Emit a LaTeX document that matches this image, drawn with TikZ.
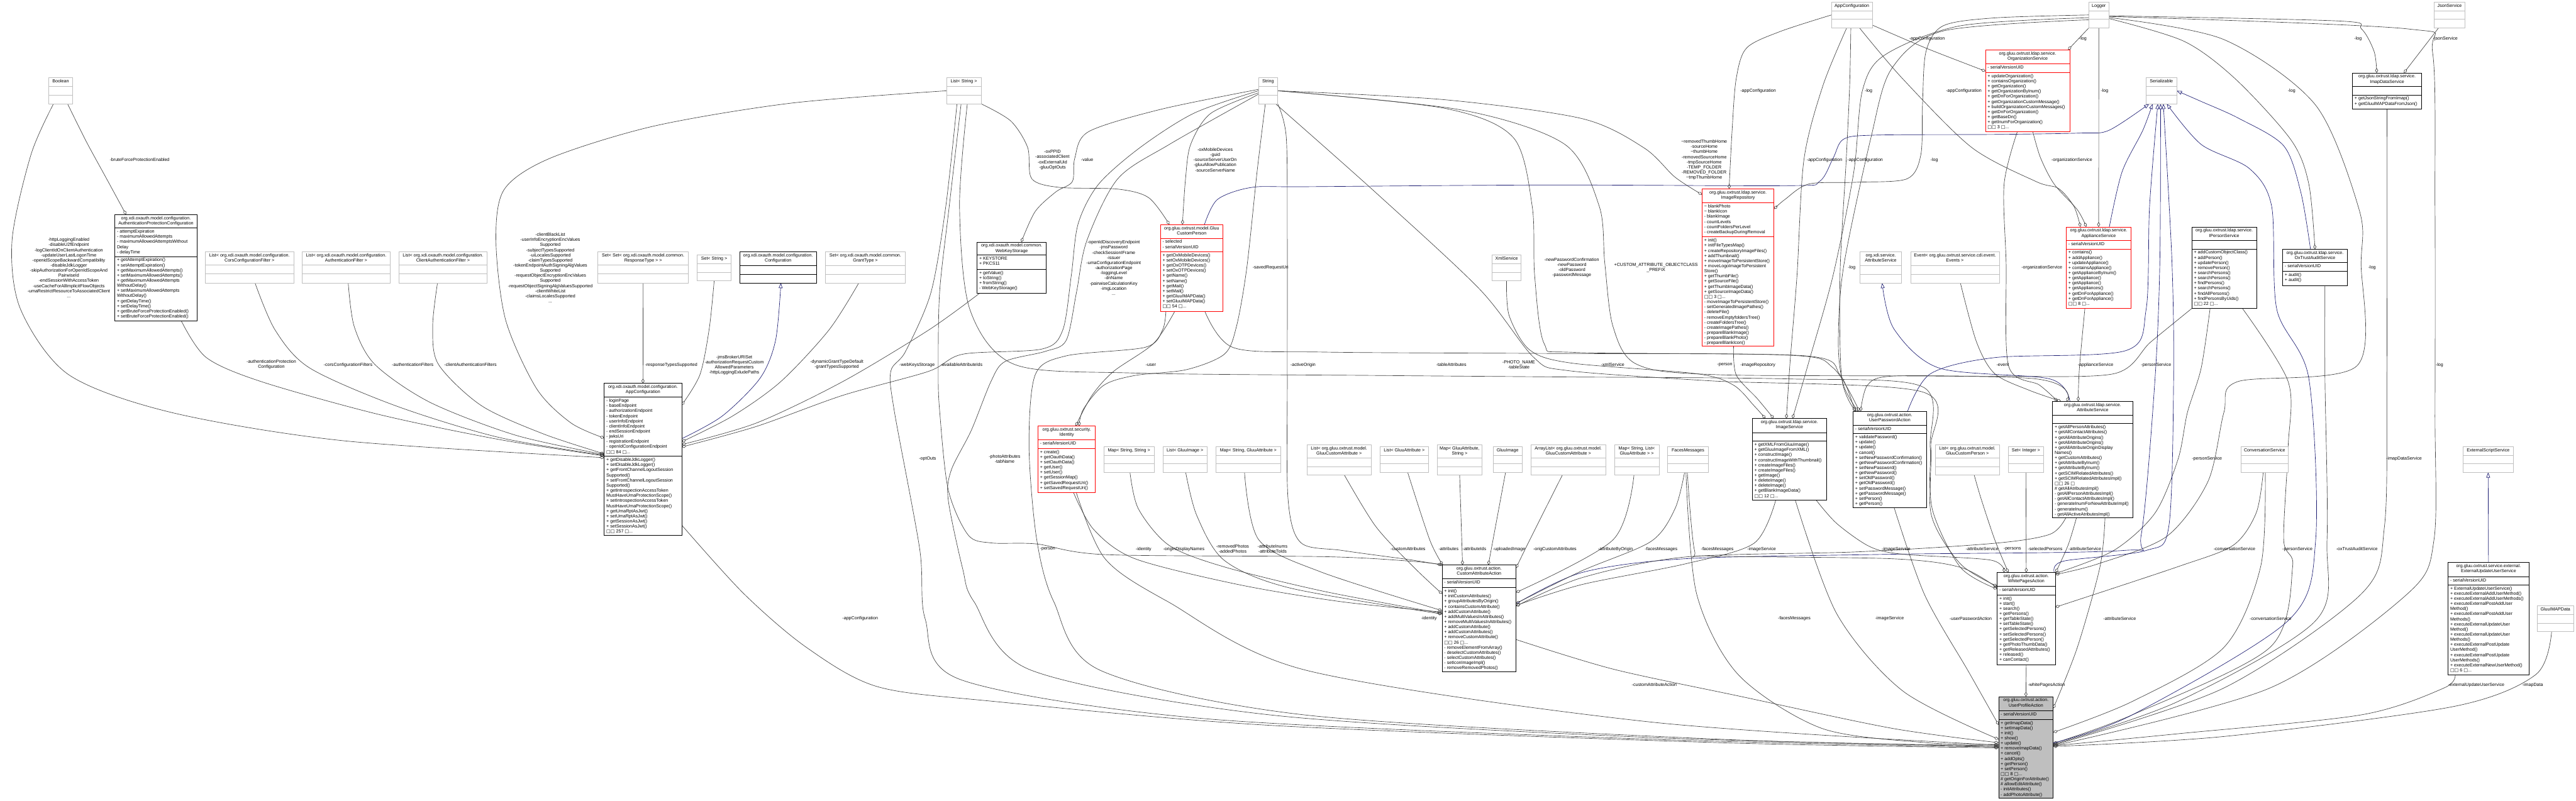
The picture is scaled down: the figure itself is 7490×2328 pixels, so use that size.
\documentclass[tikz,border=0pt]{standalone}
\usepackage{fontspec}
\setmainfont{Liberation Sans}
\newfontfamily\symfont{DejaVu Sans}
\usetikzlibrary{arrows.meta,calc}
\definecolor{edgegray}{HTML}{404040}
\definecolor{boxgray}{HTML}{BFBFBF}
\definecolor{inhblue}{HTML}{191970}
\newcommand\dfont{\fontsize{13}{14.9}\selectfont}
\newcommand\bx{{\symfont □}}
\newcommand\more[1]{\bx\bx{} #1 \bx{}...}
\def\uboxdims#1/#2/#3/#4/#5/#6\relax{\def\ux{#1}\def\uy{#2}\def\uw{#3}\def\uha{#4}\def\uhb{#5}\def\uhc{#6}}
\newcommand\ubox[6]{%
  \uboxdims#3\relax
  \pgfmathsetmacro\uh{\uha+\uhb+\uhc}%
  \pgfmathsetmacro\uya{\uy+\uha}%
  \pgfmathsetmacro\uyb{\uy+\uha+\uhb}%
  \pgfmathsetmacro\uxc{\ux+\uw/2}%
  \pgfmathsetmacro\uxl{\ux+6}%
  \pgfmathsetmacro\uyt{\uy+5}%
  \pgfmathsetmacro\uyat{\uya+5}%
  \pgfmathsetmacro\uybt{\uyb+5}%
  \node[#2, anchor=north west, minimum width=\uw pt, minimum height=\uh pt, inner sep=0pt, outer sep=0pt] (#1) at (\ux,\uy) {};
  \draw[#2, fill=none] (\ux,\uya) -- ++(\uw,0) (\ux,\uyb) -- ++(\uw,0);
  \node[txt, anchor=north, align=center] (#1-t) at (\uxc,\uyt) {#4};
  \node[txt, anchor=north west, align=left] (#1-a) at (\uxl,\uyat) {#5};
  \node[txt, anchor=north west, align=left] (#1-m) at (\uxl,\uybt) {#6};
}
\pgfdeclarelayer{back}
\pgfdeclarelayer{bg}
\pgfsetlayers{back,bg,main}
\begin{document}
\begin{tikzpicture}[x=1pt,y=-1pt,
  txt/.style={font=\dfont, inner sep=0pt, text=black},
  lbl/.style={font=\dfont, inner sep=0pt, text=black, align=center},
  cblack/.style={draw=black, line width=1.3pt, fill=white},
  cgray/.style={draw=boxgray, line width=1.3pt, fill=white},
  cred/.style={draw=red, line width=1.3pt, fill=white},
  ccur/.style={draw=black, line width=1.3pt, fill=boxgray},
  agg/.style={draw=edgegray, line width=1.2pt, -{Diamond[open, length=14pt, width=9pt]}},
  inh/.style={draw=inhblue, line width=1.2pt, -{Triangle[open, length=15pt, width=11pt]}}]
\useasboundingbox (0,0) rectangle (7490,2328);
\begin{pgfonlayer}{back}
\fill[white] (0,0) rectangle (7490,2328);
\end{pgfonlayer}

% ---------- classes ----------
\ubox{boolean}{cgray}{142/226/69/25/26/25}{Boolean}{}{}
\ubox{apc}{cblack}{334/624/239/39/83/188}{org.xdi.oxauth.model.configuration.\\AuthenticationProtectionConfiguration}{- attemptExpiration\\- maximumAllowedAttempts\\- maximumAllowedAttemptsWithout\\Delay\\- delayTime}{+ getAttemptExpiration()\\+ setAttemptExpiration()\\+ getMaximumAllowedAttempts()\\+ setMaximumAllowedAttempts()\\+ getMaximumAllowedAttempts\\WithoutDelay()\\+ setMaximumAllowedAttempts\\WithoutDelay()\\+ getDelayTime()\\+ setDelayTime()\\+ getBruteForceProtectionEnabled()\\+ setBruteForceProtectionEnabled()}
\ubox{lcors}{cgray}{597/732/257/39/26/26}{List< org.xdi.oxauth.model.configuration.\\CorsConfigurationFilter >}{}{}
\ubox{lauth}{cgray}{878/732/257/39/26/26}{List< org.xdi.oxauth.model.configuration.\\AuthenticationFilter >}{}{}
\ubox{lclient}{cgray}{1160/732/256/39/26/26}{List< org.xdi.oxauth.model.configuration.\\ClientAuthenticationFilter >}{}{}
\ubox{ssrt}{cgray}{1738/732/264/39/26/26}{Set< Set< org.xdi.oxauth.model.common.\\ResponseType > >}{}{}
\ubox{ac}{cblack}{1757/1115/225/40/172/230}{org.xdi.oxauth.model.configuration.\\AppConfiguration}{- loginPage\\- baseEndpoint\\- authorizationEndpoint\\- tokenEndpoint\\- userInfoEndpoint\\- clientInfoEndpoint\\- endSessionEndpoint\\- jwksUri\\- registrationEndpoint\\- openIdConfigurationEndpoint\\\more{84}}{+ getDisableJdkLogger()\\+ setDisableJdkLogger()\\+ getFrontChannelLogoutSession\\Supported()\\+ setFrontChannelLogoutSession\\Supported()\\+ getIntrospectionAccessToken\\MustHaveUmaProtectionScope()\\+ setIntrospectionAccessToken\\MustHaveUmaProtectionScope()\\+ getUmaRptAsJwt()\\+ setUmaRptAsJwt()\\+ getSessionAsJwt()\\+ setSessionAsJwt()\\\more{257}}
\ubox{liststr}{cgray}{2752/226/101/25/26/25}{List< String >}{}{}
\ubox{setstr}{cgray}{2027/741/99/25/26/25}{Set< String >}{}{}
\ubox{conf}{cblack}{2151/733/223/39/26/25}{org.xdi.oxauth.model.configuration.\\Configuration}{}{}
\ubox{sgrant}{cgray}{2400/733/232/39/26/25}{Set< org.xdi.oxauth.model.common.\\GrantType >}{}{}
\ubox{wks}{cblack}{2841/704/201/38/41/69}{org.xdi.oxauth.model.common.\\WebKeyStorage}{+ KEYSTORE\\+ PKCS11}{+ getValue()\\+ toString()\\+ fromString()\\- WebKeyStorage()}
\ubox{gcp}{cred}{3374/653/182/40/39/173}{org.gluu.oxtrust.model.Gluu\\CustomPerson}{- selected\\- serialVersionUID}{+ getOxMobileDevices()\\+ setOxMobileDevices()\\+ getOxOTPDevices()\\+ setOxOTPDevices()\\+ getName()\\+ setName()\\+ getMail()\\+ setMail()\\+ getGluuIMAPData()\\+ setGluuIMAPData()\\\more{54}}
\ubox{string}{cgray}{3659/226/56/25/26/25}{String}{}{}
\ubox{xml}{cgray}{4338/741/85/25/26/25}{XmlService}{}{}
\ubox{imgrepo}{cred}{4949/549/209/41/99/318}{org.gluu.oxtrust.ldap.service.\\ImageRepository}{\textasciitilde{} blankPhoto\\\textasciitilde{} blankIcon\\- blankImage\\- countLevels\\- countFoldersPerLevel\\- createBackupDuringRemoval}{+ init()\\+ initFileTypesMap()\\+ createRepositoryImageFiles()\\+ addThumbnail()\\+ moveImageToPersistentStore()\\+ moveLogoImageToPersistent\\Store()\\+ getThumbFile()\\+ getSourceFile()\\+ getThumbImageData()\\+ getSourceImageData()\\\more{3}\\- moveImageToPersistentStore()\\- setGeneratedImagePathes()\\- deleteFile()\\- removeEmptyfoldersTree()\\- createFoldersTree()\\- createImagePathes()\\- prepareBlankImage()\\- prepareBlankPhoto()\\- prepareBlankIcon()}
\ubox{appconf}{cgray}{5325/6/119/25/25/25}{AppConfiguration}{}{}
\ubox{attrxdi}{cgray}{5408/733/121/39/26/25}{org.xdi.service.\\AttributeService}{}{}
\ubox{logger}{cgray}{6073/6/59/25/25/25}{Logger}{}{}
\ubox{json}{cgray}{7078/6/89/25/25/25}{JsonService}{}{}
\ubox{orgsvc}{cred}{5773/145/245/41/25/172}{org.gluu.oxtrust.ldap.service.\\OrganizationService}{- serialVersionUID}{+ updateOrganization()\\+ containsOrganization()\\+ getOrganization()\\+ getOrganizationByInum()\\+ getDnForOrganization()\\+ getOrganizationCustomMessage()\\+ buildOrganizationCustomMessages()\\+ getDnForOrganization()\\+ getBaseDn()\\+ getInumForOrganization()\\\more{3}}
\ubox{serial}{cgray}{6240/226/89/25/26/25}{Serializable}{}{}
\ubox{imapsvc}{cblack}{6840/212/201/39/25/41}{org.gluu.oxtrust.ldap.service.\\ImapDataService}{}{+ getJsonStringFromImap()\\+ getGluuIMAPDataFromJson()}
\ubox{appliance}{cred}{6008/660/188/39/25/173}{org.gluu.oxtrust.ldap.service.\\ApplianceService}{- serialVersionUID}{+ contains()\\+ addAppliance()\\+ updateAppliance()\\+ containsAppliance()\\+ getApplianceByInum()\\+ getAppliance()\\+ getAppliance()\\+ getAppliances()\\+ getDnForAppliance()\\+ getDnForAppliance()\\\more{8}}
\ubox{iperson}{cblack}{6373/660/188/39/25/173}{org.gluu.oxtrust.ldap.service.\\IPersonService}{}{+ addCustomObjectClass()\\+ addPerson()\\+ updatePerson()\\+ removePerson()\\+ searchPersons()\\+ searchPersons()\\+ findPersons()\\+ searchPersons()\\+ findAllPersons()\\+ findPersonsByUids()\\\more{22}}
\ubox{oxaudit}{cblack}{6637/725/188/39/25/41}{org.gluu.oxtrust.ldap.service.\\OxTrustAuditService}{- serialVersionUID}{+ audit()\\+ audit()}
\ubox{event}{cgray}{5555/733/258/39/26/25}{Event< org.gluu.oxtrust.service.cdi.event.\\Events >}{}{}
\ubox{attrgluu}{cblack}{5968/1167/233/40/25/274}{org.gluu.oxtrust.ldap.service.\\AttributeService}{}{+ getAllPersonAttributes()\\+ getAllContactAttributes()\\+ getAllAttributeOrigins()\\+ getAllAttributeOrigins()\\+ getAllAttributeOriginDisplay\\Names()\\+ getCustomAttributes()\\+ getAttributeByInum()\\+ getAttributeByInum()\\+ getSCIMRelatedAttributes()\\+ getSCIMRelatedAttributesImpl()\\\bx\bx{} 26 \bx\\\# getAllAtributesImpl()\\- getAllPersonAttributesImpl()\\- getAllContactAttributesImpl()\\- generateInumForNewAttributeImpl()\\- generateInum()\\- getAllActiveAtributesImpl()}
\ubox{identity}{cred}{3018/1239/167/40/25/129}{org.gluu.oxtrust.security.\\Identity}{- serialVersionUID}{+ create()\\+ getOauthData()\\+ setOauthData()\\+ getUser()\\+ setUser()\\+ getSessionMap()\\+ getSavedRequestUri()\\+ setSavedRequestUri()}
\ubox{mapss}{cgray}{3209/1299/147/25/25/25}{Map< String, String >}{}{}
\ubox{listimg}{cgray}{3381/1299/129/25/25/25}{List< GluuImage >}{}{}
\ubox{mapsga}{cgray}{3535/1299/189/25/25/25}{Map< String, GluuAttribute >}{}{}
\ubox{listgca}{cgray}{3800/1293/187/39/25/24}{List< org.gluu.oxtrust.model.\\GluuCustomAttribute >}{}{}
\ubox{listga}{cgray}{4012/1299/142/25/25/25}{List< GluuAttribute >}{}{}
\ubox{mapgas}{cgray}{4179/1293/130/39/25/24}{Map< GluuAttribute,\\String >}{}{}
\ubox{gluuimg}{cgray}{4342/1299/83/25/25/25}{GluuImage}{}{}
\ubox{alistgca}{cgray}{4451/1293/218/39/25/24}{ArrayList< org.gluu.oxtrust.model.\\GluuCustomAttribute >}{}{}
\ubox{mapslga}{cgray}{4694/1293/130/39/25/24}{Map< String, List<\\GluuAttribute > >}{}{}
\ubox{faces}{cgray}{4849/1299/118/25/25/25}{FacesMessages}{}{}
\ubox{caa}{cblack}{4193/1643/215/40/26/245}{org.gluu.oxtrust.action.\\CustomAttributeAction}{- serialVersionUID}{+ init()\\+ initCustomAttributes()\\+ groupAttributesByOrigin()\\+ containsCustomAttribute()\\+ addCustomAttribute()\\+ addMultiValuesInAttributes()\\+ removeMultiValuesInAttributes()\\+ addCustomAttribute()\\+ addCustomAttributes()\\+ removeCustomAttribute()\\\more{26}\\- removeElementFromArray()\\- deselectCustomAttributes()\\- selectCustomAttributes()\\- setIconImageImpl()\\- removeRemovedPhotos()}
\ubox{imgsvc}{cblack}{5095/1217/216/41/25/172}{org.gluu.oxtrust.ldap.service.\\ImageService}{}{+ getXMLFromGluuImage()\\+ getGluuImageFromXML()\\+ constructImage()\\+ constructImageWithThumbnail()\\+ createImageFiles()\\+ createImageFiles()\\+ getImage()\\+ deleteImage()\\+ deleteImage()\\+ getBlankImageData()\\\more{12}}
\ubox{upa}{cblack}{5388/1196/213/41/24/216}{org.gluu.oxtrust.action.\\UserPasswordAction}{- serialVersionUID}{+ validatePassword()\\+ update()\\+ update()\\+ cancel()\\+ setNewPasswordConfirmation()\\+ getNewPasswordConfirmation()\\+ setNewPassword()\\+ getNewPassword()\\+ setOldPassword()\\+ getOldPassword()\\+ setPasswordMessage()\\+ getPasswordMessage()\\+ setPerson()\\+ getPerson()}
\ubox{listgcp}{cgray}{5627/1293/186/39/25/24}{List< org.gluu.oxtrust.model.\\GluuCustomPerson >}{}{}
\ubox{setint}{cgray}{5839/1299/103/25/25/25}{Set< Integer >}{}{}
\ubox{conv}{cgray}{6516/1299/137/25/25/25}{ConversationService}{}{}
\ubox{extscript}{cgray}{7162/1299/145/25/25/25}{ExternalScriptService}{}{}
\ubox{wpa}{cblack}{5807/1665/169/40/25/203}{org.gluu.oxtrust.action.\\WhitePagesAction}{- serialVersionUID}{+ init()\\+ start()\\+ search()\\+ getPersons()\\+ getTableState()\\+ setTableState()\\+ getSelectedPersons()\\+ setSelectedPersons()\\+ getSelectedPerson()\\+ getPhotoThumbData()\\+ getReleasedAttributes()\\+ released()\\+ canContact()}
\ubox{euus}{cblack}{7118/1636/235/41/24/261}{org.gluu.oxtrust.service.external.\\ExternalUpdateUserService}{- serialVersionUID}{+ ExternalUpdateUserService()\\+ executeExternalAddUserMethod()\\+ executeExternalAddUserMethods()\\+ executeExternalPostAddUser\\Method()\\+ executeExternalPostAddUser\\Methods()\\+ executeExternalUpdateUser\\Method()\\+ executeExternalUpdateUser\\Methods()\\+ executeExternalPostUpdate\\UserMethod()\\+ executeExternalPostUpdate\\UserMethods()\\+ executeExternalNewUserMethod()\\\more{6}}
\ubox{imapdata}{cgray}{7377/1762/106/25/25/25}{GluuIMAPData}{}{}
\ubox{upa2}{ccur}{5811/2026/159/41/25/230}{org.gluu.oxtrust.action.\\UserProfileAction}{- serialVersionUID}{+ getImapData()\\+ setImapData()\\+ init()\\+ show()\\+ update()\\+ removeImapData()\\+ cancel()\\+ addOpts()\\+ getPerson()\\+ setPerson()\\\more{8}\\\# getOriginForAttribute()\\\# allowEditAttribute()\\- initAttributes()\\- addPhotoAttribute()}

% ---------- connectors ----------
\begin{pgfonlayer}{bg}
% to AuthenticationProtectionConfiguration
\draw[agg] plot[smooth] coordinates {([xshift=20pt]boolean.south) (250,410) (310,520) ([xshift=-87pt]apc.north)};
% to oxauth AppConfiguration
\draw[agg] plot[smooth] coordinates {([xshift=-21pt]boolean.south) (90,450) (35,700) (60,900) (200,1090) (500,1200) (1000,1282) ([yshift=-216pt]ac.north west)};
\draw[agg] plot[smooth] coordinates {([xshift=74pt]apc.south) (600,1040) (760,1110) (1100,1205) (1450,1278) ([yshift=-211pt]ac.north west)};
\draw[agg] plot[smooth] coordinates {([xshift=16pt]lcors.south) (800,960) (900,1070) (1150,1180) (1450,1272) ([yshift=-209pt]ac.north west)};
\draw[agg] plot[smooth] coordinates {([xshift=6pt]lauth.south) (1030,950) (1090,1060) (1250,1170) (1500,1266) ([yshift=-207pt]ac.north west)};
\draw[agg] plot[smooth] coordinates {([xshift=-16pt]lclient.south) (1258,950) (1275,1060) (1400,1180) (1580,1262) ([yshift=-205pt]ac.north west)};
\draw[agg] plot[smooth] coordinates {(liststr.west) (2300,300) (1900,367) (1600,460) (1466,551) (1442,700) (1470,930) (1560,1130) (1660,1230) ([yshift=-159pt]ac.north west)};
\draw[agg] (ssrt.south) -- (ac.north);
\draw[agg] plot[smooth] coordinates {(setstr.south) (2062,957) (2035,1090) ([yshift=-63pt]ac.north east)};
\draw[inh] plot[smooth] coordinates {([yshift=-161pt]ac.north east) (2100,1210) (2210,1100) (2255,990) ([xshift=8pt]conf.south)};
\draw[agg] plot[smooth] coordinates {([xshift=-19pt]sgrant.south) (2410,960) (2270,1110) (2130,1210) ([yshift=-170pt]ac.north east)};
\draw[agg] plot[smooth] coordinates {([xshift=-92pt]wks.south) (2700,960) (2450,1110) (2200,1230) ([yshift=-178pt]ac.north east)};
\draw[agg] plot[smooth] coordinates {(string.west) (3472,329) (3315,429) (3194,536) (3135,650) (3115,800) (3090,960) (3030,1015) (2800,1030) (2700,1080) (2450,1150) (2200,1240) ([yshift=-185pt]ac.north east)};
% WebKeyStorage
\draw[agg] plot[smooth] coordinates {([yshift=4pt]string.west) (3375,318) (3165,383) (3125,460) (3118,528) (3070,558) (3010,615) ([xshift=28pt]wks.north)};
% GluuCustomPerson
\draw[agg] plot[smooth] coordinates {(liststr.south east) (2939,352) (2988,429) (3000,520) (3080,545) (3250,550) (3340,575) ([xshift=-65pt]gcp.north)};
\draw[agg] plot[smooth] coordinates {([yshift=-6pt]string.west) (3520,330) (3462,420) (3447,520) ([xshift=-27pt]gcp.north)};
\draw[inh] plot[smooth] coordinates {([xshift=37pt]gcp.north) (3540,580) (3640,545) (3800,543) (4500,538) (5200,540) (5290,528) (5330,460) (5360,405) (5450,393) (5800,391) (6050,387) (6132,379) ([xshift=9pt]serial.south west)};
% Identity
\draw[agg] plot[smooth] coordinates {([xshift=-8pt]string.south) (3655,500) (3625,780) (3595,950) (3560,1030) (3450,1075) (3300,1092) (3210,1120) (3150,1190) ([xshift=36pt]identity.north)};
\draw[agg] plot[smooth] coordinates {([xshift=-49pt]gcp.south) (3354,999) (3238,1080) (3175,1150) ([xshift=26pt]identity.north)};
% ImageRepository
\draw[agg] plot[smooth] coordinates {(appconf.west) (5175,92) (5078,140) (5048,230) (5036,383) ([xshift=-26pt]imgrepo.north)};
\draw[agg] plot[smooth] coordinates {(string.east) (4200,290) (4600,345) (4780,430) (4870,515) ([yshift=-17pt]imgrepo.north west)};
\draw[agg] plot[smooth] coordinates {(logger.west) (5800,52) (5650,75) (5600,150) (5590,300) (5585,450) (5545,520) (5400,530) (5260,535) (5190,580) ([yshift=-59pt]imgrepo.north east)};
% ImageService
\draw[agg] plot[smooth] coordinates {(xml.south) (4388,918) (4448,1018) (4569,1056) (4933,1087) (5040,1120) (5100,1180) ([xshift=-70pt]imgsvc.north)};
\draw[agg] plot[smooth] coordinates {([xshift=-13pt]imgrepo.south) (5048,1090) (5110,1160) ([xshift=-46pt]imgsvc.north)};
\draw[agg] plot[smooth] coordinates {([xshift=-15pt]appconf.south) (5300,250) (5245,465) (5225,800) (5205,1050) ([xshift=-9pt]imgsvc.north)};
\draw[agg] plot[smooth] coordinates {([yshift=-8pt]logger.west) (5700,75) (5480,160) (5415,264) (5390,500) (5330,800) (5260,1050) ([xshift=9pt]imgsvc.north)};
% UserPasswordAction
\draw[agg] plot[smooth] coordinates {([xshift=-3pt]appconf.south) (5378,250) (5368,465) (5350,800) (5355,1100) ([xshift=8pt]upa.north west)};
\draw[agg] plot[smooth] coordinates {([yshift=-14pt]logger.west) (5650,90) (5500,200) (5440,400) (5360,778) (5345,1000) (5360,1120) ([xshift=14pt]upa.north west)};
\draw[agg] plot[smooth] coordinates {(string.east) (4200,315) (4400,400) (4455,600) (4462,800) (4490,1000) (4580,1025) (5250,1035) (5350,1090) ([xshift=5pt]upa.north west)};
\draw[agg] plot[smooth] coordinates {([xshift=38pt]gcp.south) (3586,1011) (3850,1024) (4500,1028) (5200,1033) (5330,1070) ([xshift=18pt]upa.north west)};
\draw[agg] plot[smooth] coordinates {(iperson.south west) (6253,995) (6146,1087) (5800,1094) (5500,1094) (5430,1120) ([xshift=22pt]upa.north west)};
\draw[inh] plot[smooth] coordinates {([xshift=52pt]upa.north) (5613,1087) (5800,1040) (6180,1020) (6240,900) (6250,600) ([xshift=34pt]serial.south west)};
% OrganizationService
\draw[agg] plot[smooth] coordinates {([yshift=-67pt]appconf.north east) (5600,140) ([yshift=-62pt]orgsvc.north west)};
\draw[agg] ([xshift=-29pt]logger.south) -- ([xshift=-5pt]orgsvc.north east);
% ImapDataService
\draw[agg] plot[smooth] coordinates {([yshift=-40pt]logger.north east) (6800,61) (6866,84) (6903,150) ([xshift=-30pt]imapsvc.north)};
\draw[agg] ([xshift=-32pt]json.south) -- ([xshift=49pt]imapsvc.north);
% ApplianceService
\draw[agg] plot[smooth] coordinates {([xshift=22pt]appconf.south) (5533,230) (5733,429) (5920,528) (5985,548) (6030,600) ([xshift=-53pt]appliance.north)};
\draw[agg] plot[smooth] coordinates {([xshift=15pt]orgsvc.south) (5933,459) (5973,536) (6040,610) ([xshift=-36pt]appliance.north)};
\draw[agg] (logger.south) -- (appliance.north);
\draw[inh] plot[smooth] coordinates {([xshift=31pt]appliance.north) (6170,500) (6230,380) ([xshift=19pt]serial.south west)};
% OxTrustAuditService
\draw[agg] plot[smooth] coordinates {([yshift=-48pt]logger.north east) (6350,120) (6500,230) (6662,408) (6713,535) (oxaudit.north)};
\draw[inh] plot[smooth] coordinates {([xshift=-13pt]oxaudit.north) (6690,560) (6640,424) (6509,344) (6400,295) (serial.east)};
% gluu AttributeService
\draw[inh] plot[smooth] coordinates {([xshift=-66pt]attrgluu.north) (5960,1102) (5640,1071) (5507,957) ([xshift=4pt]attrxdi.south)};
\draw[agg] plot[smooth] coordinates {([xshift=-30pt]orgsvc.south) (5827,536) (5833,765) (5840,1064) (5930,1120) ([xshift=-102pt]attrgluu.north)};
\draw[agg] plot[smooth] coordinates {([xshift=16pt]event.south) (5747,995) (5800,1087) (5900,1135) ([xshift=-92pt]attrgluu.north)};
\draw[agg] plot[smooth] coordinates {([xshift=-40pt]appliance.south) (6046,1071) ([xshift=-42pt]attrgluu.north)};
\draw[agg] plot[smooth] coordinates {(string.east) (4250,320) (4550,420) (4650,600) (4666,765) (4690,950) (4760,1060) (5000,1090) (5900,1100) ([xshift=-76pt]attrgluu.north)};
% IPersonService
\draw[agg] plot[smooth] coordinates {([xshift=-41pt]iperson.south) (6400,1071) (6360,1200) (6333,1335) (6266,1492) (6146,1601) ([yshift=-3pt]wpa.north east)};
\draw[agg] plot[smooth] coordinates {([xshift=53pt]iperson.south) (6653,1110) (6653,1300) (6640,1570) (6666,1648) (6600,1883) (6200,2079) ([yshift=-136pt]upa2.north east)};
% ConversationService
\draw[agg] plot[smooth] coordinates {([xshift=-4pt]conv.south) (6560,1492) (6493,1586) (6333,1648) ([yshift=-101pt]wpa.north east)};
\draw[agg] plot[smooth] coordinates {([xshift=2pt]conv.south) (6573,1648) (6466,1883) (6200,2040) ([yshift=-104pt]upa2.north east)};
% UserProfileAction, right side
\draw[agg] plot[smooth] coordinates {([xshift=29pt]oxaudit.south) (6760,1100) (6766,1570) (6733,1805) (6333,2040) ([yshift=-139pt]upa2.north east)};
\draw[agg] plot[smooth] coordinates {(imapsvc.south) (6940,1100) (6933,1531) (6866,1727) (6466,2001) ([yshift=-141pt]upa2.north east)};
\draw[agg] plot[smooth] coordinates {([yshift=-42pt]logger.north east) (7000,84) (7073,153) (7080,600) (7080,1200) (7077,1570) (7000,1727) (6600,2001) ([yshift=-143pt]upa2.north east)};
\draw[agg] plot[smooth] coordinates {([yshift=-45pt]logger.north east) (6466,115) (6733,306) (6860,612) (6865,765) (6853,1064) (6506,1110) (6466,1200) (6420,1400) (6300,1560) (6100,1640) ([yshift=-6pt]wpa.north east)};
\draw[agg] plot[smooth] coordinates {([xshift=-97pt]euus.south) (7106,2001) (6866,2079) (6333,2134) ([yshift=-143pt]upa2.north east)};
\draw[agg] plot[smooth] coordinates {([xshift=-11pt]imapdata.south) (7373,1962) (7133,2055) (6466,2142) ([yshift=-145pt]upa2.north east)};
\draw[inh] (euus.north) -- (extscript.south);
\draw[inh] plot[smooth] coordinates {([yshift=-135pt]upa2.north east) (6200,2079) (6653,1805) (6733,1570) (6713,1100) (6620,900) (6605,600) (6540,490) (6400,420) ([xshift=60pt]serial.south west)};
\draw[inh] plot[smooth] coordinates {([yshift=-113pt]caa.north east) (4600,1665) (4900,1625) (5500,1612) (6173,1601) (6226,1554) (6266,1100) (6280,758) ([xshift=42pt]serial.south west)};
\draw[inh] plot[smooth] coordinates {([xshift=-3pt]wpa.north east) (6000,1632) (6240,1601) (6306,1531) (6320,1100) (6315,758) ([xshift=50pt]serial.south west)};
% WhitePagesAction
\draw[agg] (wpa.south) -- (upa2.north);
\draw[agg] plot[smooth] coordinates {([xshift=20pt]listgcp.south) (5760,1450) (5800,1570) ([xshift=-52pt]wpa.north)};
\draw[agg] (setint.south) -- (wpa.north);
\draw[agg] plot[smooth] coordinates {([xshift=-47pt]attrgluu.south) (6013,1586) ([xshift=1pt]wpa.north east)};
\draw[agg] plot[smooth] coordinates {([xshift=78pt]imgsvc.south) (5341,1523) (5437,1590) (5533,1612) (5788,1629) ([xshift=-65pt]wpa.north)};
\draw[agg] plot[smooth] coordinates {([xshift=-2pt]faces.south) (4927,1601) (4969,1617) (5500,1625) (5700,1650) ([yshift=-45pt]wpa.north west)};
\draw[agg] plot[smooth] coordinates {([xshift=10pt]liststr.south) (2790,600) (2820,900) (2950,1060) (3300,1085) (4000,1092) (4500,1096) (5200,1102) (5590,1125) (5612,1300) (5616,1500) (5700,1640) ([yshift=-40pt]wpa.north west)};
\draw[agg] plot[smooth] coordinates {([xshift=22pt]string.south) (4000,560) (4303,842) (4460,1040) (4560,1078) (4980,1108) (5590,1140) (5614,1300) (5618,1480) (5700,1650) ([yshift=-48pt]wpa.north west)};
% UserProfileAction, left side
\draw[agg] plot[smooth] coordinates {([yshift=-412pt]ac.north east) (2163,1727) (2345,1883) (2551,1997) (2890,2040) (3700,2110) (5000,2160) ([yshift=-149pt]upa2.north west)};
\draw[agg] plot[smooth] coordinates {([xshift=-20pt]liststr.south) (2750,600) (2707,850) (2633,1022) (2590,1080) (2600,1194) (2674,1596) (2690,1800) (2794,1977) (3500,2090) (4800,2150) ([yshift=-147pt]upa2.north west)};
\draw[agg] plot[smooth] coordinates {([yshift=-10pt]string.west) (3400,420) (3250,520) (3160,700) (3130,850) (3100,990) (3039,1022) (2923,1051) (2882,1108) (2824,1252) (2766,1367) (2757,1453) (2799,1654) (2832,1750) (3000,1950) (3700,2080) (4800,2145) ([yshift=-145pt]upa2.north west)};
\draw[agg] plot[smooth] coordinates {([xshift=-75pt]gcp.south) (3380,960) (3330,1010) (3100,1035) (3010,1090) (2992,1300) (3014,1567) (3064,1750) (3200,1950) (3800,2080) (5000,2150) ([yshift=-143pt]upa2.north west)};
\draw[agg] plot[smooth] coordinates {([xshift=28pt]identity.south) (3213,1625) (3396,1750) (3800,1950) (4800,2100) ([yshift=-141pt]upa2.north west)};
\draw[agg] plot[smooth] coordinates {([yshift=-217pt]caa.north east) (4690,1946) (5054,2024) (5500,2118) ([yshift=-134pt]upa2.north west)};
\draw[agg] plot[smooth] coordinates {([xshift=-6pt]faces.south) (4933,1727) (5054,1962) (5296,2118) (5600,2160) ([yshift=-139pt]upa2.north west)};
\draw[agg] plot[smooth] coordinates {([xshift=17pt]imgsvc.south) (5341,1786) (5533,2010) ([yshift=-124pt]upa2.north west)};
\draw[agg] plot[smooth] coordinates {([xshift=13pt]upa.south) (5596,1730) (5724,1954) ([yshift=-82pt]upa2.north west)};
\draw[agg] plot[smooth] coordinates {([xshift=36pt]attrgluu.south) (6106,1648) (6040,1883) ([yshift=-34pt]upa2.north east)};
% CustomAttributeAction
\draw[agg] plot[smooth] coordinates {(string.south east) (3740,400) (3743,700) (3743,1100) (3745,1450) (3782,1578) (3903,1601) (4100,1628) ([xshift=-1pt]caa.north west)};
\draw[agg] plot[smooth] coordinates {([xshift=-8pt]liststr.south) (2760,600) (2732,850) (2728,1080) (2732,1194) (2757,1424) (2815,1556) (2882,1579) (3014,1582) (3213,1613) (3850,1619) (4100,1632) ([xshift=4pt]caa.north west)};
\draw[agg] plot[smooth] coordinates {([xshift=3pt]mapss.south) (3310,1480) (3399,1586) (3557,1648) (3850,1720) ([yshift=-141pt]caa.north west)};
\draw[agg] plot[smooth] coordinates {([xshift=2pt]listimg.south) (3480,1500) (3560,1630) (3750,1710) ([yshift=-143pt]caa.north west)};
\draw[agg] plot[smooth] coordinates {([xshift=-11pt]mapsga.south) (3660,1570) (3842,1664) ([yshift=-133pt]caa.north west)};
\draw[agg] plot[smooth] coordinates {([xshift=20pt]identity.south) (3180,1540) (3300,1625) (3600,1700) (3900,1750) ([yshift=-137pt]caa.north west)};
\draw[agg] plot[smooth] coordinates {([xshift=15pt]listgca.south) (4000,1531) (4109,1648) ([yshift=-84pt]caa.north west)};
\draw[agg] plot[smooth] coordinates {([xshift=10pt]listga.south) (4157,1570) ([xshift=2pt]caa.north west)};
\draw[agg] (mapgas.south) -- ([xshift=-48pt]caa.north);
\draw[agg] ([xshift=-6pt]gluuimg.south) -- ([xshift=27pt]caa.north);
\draw[agg] plot[smooth] coordinates {([xshift=-17pt]alistgca.south) (4448,1570) ([yshift=-9pt]caa.north east)};
\draw[agg] plot[smooth] coordinates {([xshift=-8pt]mapslga.south) (4690,1570) ([yshift=-80pt]caa.north east)};
\draw[agg] plot[smooth] coordinates {([xshift=-10pt]faces.south) (4870,1480) (4800,1575) (4600,1660) ([yshift=-112pt]caa.north east)};
\draw[agg] plot[smooth] coordinates {([xshift=-40pt]imgsvc.south) (5100,1580) (4900,1640) (4600,1700) ([yshift=-118pt]caa.north east)};
\draw[agg] plot[smooth] coordinates {([xshift=-78pt]attrgluu.south) (5960,1554) (5800,1580) (5400,1605) (4900,1620) (4600,1680) ([yshift=-120pt]caa.north east)};
\end{pgfonlayer}

% ---------- connector labels ----------
\node[lbl] (lb01) at (406,465) {-bruteForceProtectionEnabled};
\node[lbl] (lb02) at (200,779) {-httpLoggingEnabled\\-disableU2fEndpoint\\-logClientIdOnClientAuthentication\\-updateUserLastLogonTime\\-openidScopeBackwardCompatibility\\-disableJdkLogger\\-skipAuthorizationForOpenIdScopeAnd\\PairwiseId\\-endSessionWithAccessToken\\-useCacheForAllImplicitFlowObjects\\-umaRestrictResourceToAssociatedClient\\...};
\node[lbl] (lb03) at (789,1060) {-authenticationProtection\\Configuration};
\node[lbl] (lb04) at (1012,1061) {-corsConfigurationFilters};
\node[lbl] (lb05) at (1200,1061) {-authenticationFilters};
\node[lbl] (lb06) at (1368,1061) {-clientAuthenticationFilters};
\node[lbl] (lb07) at (1600,779) {-clientBlackList\\-userInfoEncryptionEncValues\\Supported\\-subjectTypesSupported\\-uiLocalesSupported\\-claimTypesSupported\\-tokenEndpointAuthSigningAlgValues\\Supported\\-requestObjectEncryptionEncValues\\Supported\\-requestObjectSigningAlgValuesSupported\\-clientWhiteList\\-claimsLocalesSupported\\...};
\node[lbl, anchor=west] (lb08) at (1875,1061) {-responseTypesSupported};
\node[lbl] (lb09) at (2135,1062) {-jmsBrokerURISet\\-authorizationRequestCustom\\AllowedParameters\\-httpLoggingExludePaths};
\node[lbl] (lb10) at (2433,1060) {-dynamicGrantTypeDefault\\-grantTypesSupported};
\node[lbl, anchor=west] (lb11) at (2615,1061) {-webKeysStorage};
\node[lbl, anchor=west] (lb12) at (2735,1061) {-availableAttributeIds};
\node[lbl] (lb13) at (3238,779) {-openIdDiscoveryEndpoint\\-jmsPassword\\-checkSessionIFrame\\-issuer\\-umaConfigurationEndpoint\\-authorizationPage\\-loggingLevel\\-dnName\\-pairwiseCalculationKey\\-imgLocation\\...};
\node[lbl] (lb14) at (3161,465) {-value};
\node[lbl] (lb15) at (3060,465) {-oxPPID\\-associatedClient\\-oxExternalUid\\-gluuOptOuts};
\node[lbl] (lb16) at (3533,465) {-oxMobileDevices\\-guid\\-sourceServerUserDn\\-gluuAllowPublication\\-sourceServerName};
\node[lbl] (lb17) at (3346,1061) {-user};
\node[lbl, anchor=west] (lb18) at (3642,778) {-savedRequestUri};
\node[lbl, anchor=west] (lb19) at (3752,1061) {-activeOrigin};
\node[lbl] (lb20) at (4220,1061) {-tableAttributes};
\node[lbl] (lb21) at (4416,1060) {-PHOTO\_NAME\\-tableState};
\node[lbl, anchor=west] (lb22) at (4655,1061) {-xmlService};
\node[lbl] (lb23) at (4570,778) {-newPasswordConfirmation\\-newPassword\\-oldPassword\\-passwordMessage};
\node[lbl] (lb24) at (4815,778) {+CUSTOM\_ATTRIBUTE\_OBJECTCLASS\\\_PREFIX};
\node[lbl] (lb25) at (4955,465) {\textasciitilde removedThumbHome\\-sourceHome\\\textasciitilde thumbHome\\-removedSourceHome\\-tmpSourceHome\\-TEMP\_FOLDER\\-REMOVED\_FOLDER\\\textasciitilde tmpThumbHome};
\node[lbl] (lb26) at (5015,1061) {-person};
\node[lbl, anchor=west] (lb27) at (5060,1061) {-imageRepository};
\node[lbl] (lb28) at (5112,264) {-appConfiguration};
\node[lbl] (lb29) at (5305,465) {-appConfiguration};
\node[lbl] (lb30) at (5423,465) {-appConfiguration};
\node[lbl] (lb31) at (5433,264) {-log};
\node[lbl] (lb32) at (5384,778) {-log};
\node[lbl] (lb33) at (5603,113) {-appConfiguration};
\node[lbl] (lb34) at (5624,465) {-log};
\node[lbl] (lb35) at (5710,264) {-appConfiguration};
\node[lbl] (lb36) at (6056,113) {-log};
\node[lbl, anchor=west] (lb37) at (6108,264) {-log};
\node[lbl] (lb38) at (6024,465) {-organizationService};
\node[lbl] (lb39) at (6663,264) {-log};
\node[lbl] (lb40) at (6856,113) {-log};
\node[lbl] (lb41) at (7110,113) {-jsonService};
\node[lbl] (lb42) at (5937,778) {-organizationService};
\node[lbl] (lb43) at (6897,778) {-log};
\node[lbl] (lb44) at (5823,1061) {-event};
\node[lbl] (lb45) at (6093,1061) {-applianceService};
\node[lbl] (lb46) at (6269,1061) {-personService};
\node[lbl] (lb47) at (7093,1061) {-log};
\node[lbl] (lb48) at (6417,1335) {-personService};
\node[lbl] (lb49) at (6990,1335) {-imapDataService};
\node[lbl] (lb50) at (2697,1335) {-optOuts};
\node[lbl] (lb51) at (2921,1335) {-photoAttributes\\-tabName};
\node[lbl] (lb52) at (3046,1597) {-person};
\node[lbl] (lb53) at (3325,1597) {-identity};
\node[lbl] (lb54) at (3442,1597) {-originDisplayNames};
\node[lbl] (lb55) at (3584,1597) {-removedPhotos\\-addedPhotos};
\node[lbl] (lb56) at (3700,1597) {-attributeInums\\-attributeToIds};
\node[lbl] (lb57) at (4094,1597) {-customAttributes};
\node[lbl] (lb58) at (4212,1597) {-attributes};
\node[lbl] (lb59) at (4287,1597) {-attributeIds};
\node[lbl] (lb60) at (4388,1597) {-uploadedImage};
\node[lbl] (lb61) at (4521,1597) {-origCustomAttributes};
\node[lbl] (lb62) at (4697,1597) {-attributeByOrigin};
\node[lbl] (lb63) at (4830,1597) {-facesMessages};
\node[lbl] (lb64) at (4993,1597) {-facesMessages};
\node[lbl] (lb65) at (5122,1597) {-imageService};
\node[lbl] (lb66) at (5513,1597) {-imageService};
\node[lbl] (lb67) at (5763,1597) {-attributeService};
\node[lbl] (lb68) at (5851,1597) {-persons};
\node[lbl, anchor=west] (lb69) at (5896,1597) {-selectedPersons};
\node[lbl] (lb70) at (6062,1597) {-attributeService};
\node[lbl] (lb71) at (6497,1597) {-conversationService};
\node[lbl] (lb72) at (6680,1597) {-personService};
\node[lbl] (lb73) at (6853,1597) {-oxTrustAuditService};
\node[lbl] (lb74) at (2501,1799) {-appConfiguration};
\node[lbl] (lb75) at (4155,1799) {-identity};
\node[lbl] (lb76) at (5217,1799) {-facesMessages};
\node[lbl] (lb77) at (5494,1799) {-imageService};
\node[lbl] (lb78) at (5730,1799) {-userPasswordAction};
\node[lbl] (lb79) at (6163,1799) {-attributeService};
\node[lbl] (lb80) at (6602,1799) {-conversationService};
\node[lbl] (lb81) at (4810,1992) {-customAttributeAction};
\node[lbl, anchor=west] (lb82) at (5896,1992) {-whitePagesAction};
\node[lbl] (lb83) at (7200,1992) {-externalUpdateUserService};
\node[lbl] (lb84) at (7364,1992) {-imapData};
\end{tikzpicture}
\end{document}
